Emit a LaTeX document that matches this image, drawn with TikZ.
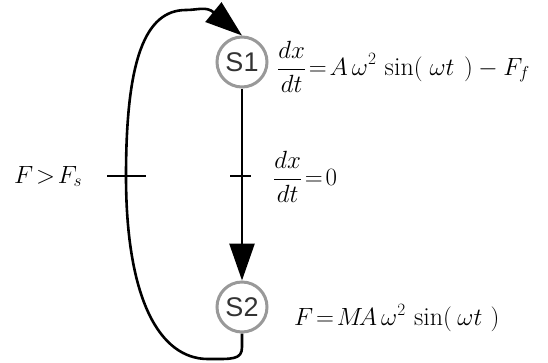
\documentclass[tikz,border=0pt]{standalone}
\usepackage{fontspec}
\usetikzlibrary{arrows.meta}
\newfontfamily\statefont{Liberation Sans}
\begin{document}
\begin{tikzpicture}[x=1pt,y=-1pt,
  state/.style={circle,draw=black!40,line width=3pt,minimum size=50pt,inner sep=0pt,font=\statefont\fontsize{27}{29}\selectfont,text=black!80},
  conn/.style={line width=2.6pt},
  bigtip/.style={-{Triangle[length=37pt,width=25pt]}},
  eq/.style={font=\fontsize{26}{29}\selectfont,inner sep=0pt,anchor=base west}]
\useasboundingbox (0,0) rectangle (548,362);
\node[state] (s1) at (242,62) {S1};
\node[state] (s2) at (242,307) {S2};
\draw[conn,bigtip] (s1.south) -- (s2.north);
\coordinate (t1) at (241,176);
\draw[conn] ([xshift=-11pt]t1) -- ([xshift=10pt]t1);
\coordinate (lb) at (126,176);
\draw[conn,bigtip] (s2.south) -- (242,347) .. controls (242,360) and (232,359) .. (208,359)
  .. controls (160,359) and (126,300) .. (lb)
  .. controls (126,60) and (145,10) .. (186,10)
  .. controls (198,10) and (206,6) .. (s1.north);
\draw[conn] ([xshift=-19pt]lb) -- ([xshift=20pt]lb);
\node[eq] (e1) at (277,75) {$\displaystyle\frac{dx}{dt}\!=\!A\,\omega^2\,\sin(\mkern5mu\omega t\mkern7mu)-F_f$};
\node[eq] (e2) at (273,185) {$\displaystyle\frac{dx}{dt}\!=\!0$};
\node[eq] (e3) at (294,325) {$F\!=\!M\!A\,\omega^2\,\sin(\mkern4mu\omega t\mkern6mu)$};
\node[eq] (e4) at (14,183) {$F\!>\!F_s$};
\end{tikzpicture}
\end{document}
